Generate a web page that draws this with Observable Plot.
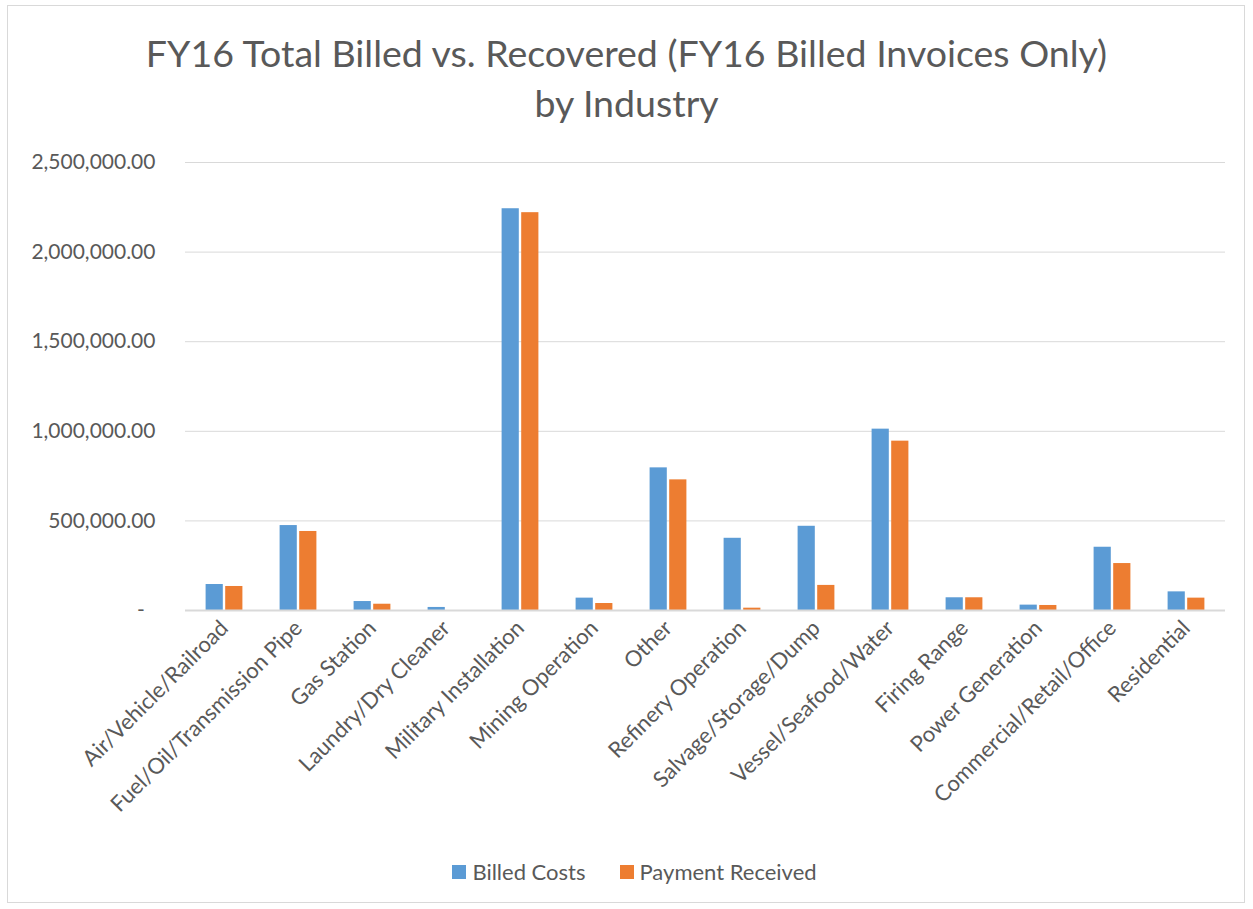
<!DOCTYPE html>
<html>
<head>
<meta charset="utf-8">
<script src="https://cdn.jsdelivr.net/npm/d3@7"></script>
<script src="https://cdn.jsdelivr.net/npm/@observablehq/plot@0.6"></script>
<style>
  html, body { margin: 0; padding: 0; background: #fff; }
  body { width: 1253px; height: 909px; position: relative; overflow: hidden; font-family: Lato, "Open Sans", sans-serif; }
  #frame { position: absolute; left: 7px; top: 5px; width: 1238px; height: 898px; border: 1px solid #d9d9d9; box-sizing: border-box; }
  #title { position: absolute; left: 0; top: 28px; width: 1253px; text-align: center; font-size: 37.5px; line-height: 50px; color: #595959; }
  #chart { position: absolute; left: 0; top: 140px; }
  #legend { position: absolute; left: 8px; top: 858px; width: 1253px; display: flex; justify-content: center; gap: 34px; font-size: 22px; color: #595959; }
  .item { display: flex; align-items: center; gap: 6px; }
  .sw { width: 14px; height: 14px; display: inline-block; }
</style>
</head>
<body>
<div id="frame"></div>
<div id="title">FY16 Total Billed vs. Recovered (FY16 Billed Invoices Only)<br>by Industry</div>
<div id="chart"></div>
<div id="legend"></div>
<script>
const categories = ["Air/Vehicle/Railroad", "Fuel/Oil/Transmission Pipe", "Gas Station", "Laundry/Dry Cleaner", "Military Installation", "Mining Operation", "Other", "Refinery Operation", "Salvage/Storage/Dump", "Vessel/Seafood/Water", "Firing Range", "Power Generation", "Commercial/Retail/Office", "Residential"];
const billedCosts = [145000, 474000, 50000, 17000, 2242000, 69000, 796000, 403000, 470000, 1012000, 71000, 30000, 353000, 104000];
const paymentReceived = [134000, 441000, 35000, 0, 2220000, 39000, 729000, 13000, 140000, 945000, 71000, 28000, 262000, 69000];
const seriesNames = ["Billed Costs", "Payment Received"];
const seriesColors = ["#5B9BD5", "#ED7D31"];
const yTicks = [0, 500000, 1000000, 1500000, 2000000, 2500000];

const billedData = categories.map((c, i) => ({industry: c, value: billedCosts[i]}));
const paidData = categories.map((c, i) => ({industry: c, value: paymentReceived[i]}));

const fmt = d3.format(",.2f");
const chart = Plot.plot({
  width: 1253,
  height: 690,
  marginTop: 22,
  marginBottom: 220,
  marginLeft: 185,
  marginRight: 28,
  style: {fontFamily: "Lato, 'Open Sans', sans-serif", color: "#595959", background: "transparent"},
  x: {domain: categories, padding: 0},
  y: {domain: [0, 2500000]},
  marks: [
    Plot.gridY(yTicks, {stroke: "#d9d9d9", strokeOpacity: 1, strokeWidth: 1}),
    Plot.barY(billedData, {x: "industry", y: "value", fill: seriesColors[0], insetLeft: 28.4, insetRight: 28.4, dx: -9.8}),
    Plot.barY(paidData, {x: "industry", y: "value", fill: seriesColors[1], insetLeft: 28.4, insetRight: 28.4, dx: 9.8}),
    Plot.ruleY([0], {stroke: "#d9d9d9", strokeWidth: 2}),
    Plot.axisY({ticks: yTicks, tickSize: 0, tickPadding: 30, fontSize: 21, tickFormat: d => d === 0 ? "-\u00a0\u00a0" : fmt(d), label: null}),
    Plot.axisX({tickSize: 0, tickPadding: 14, tickRotate: -45, fontSize: 22, label: null})
  ]
});
document.getElementById("chart").appendChild(chart);

const legend = document.getElementById("legend");
seriesNames.forEach((name, i) => {
  const item = document.createElement("div");
  item.className = "item";
  const sw = document.createElement("span");
  sw.className = "sw";
  sw.style.background = seriesColors[i];
  const tx = document.createElement("span");
  tx.textContent = name;
  item.appendChild(sw);
  item.appendChild(tx);
  legend.appendChild(item);
});
</script>
</body>
</html>
